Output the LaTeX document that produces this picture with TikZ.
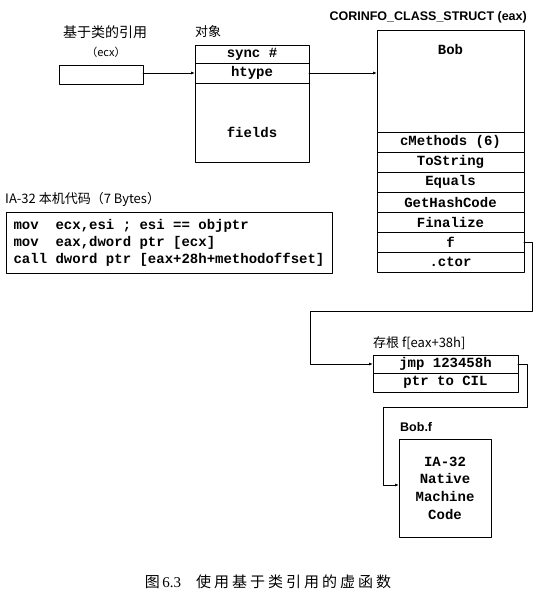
\documentclass[tikz,border=0pt]{standalone}
\usepackage{fontspec}
\setmainfont{Liberation Serif}
\newfontfamily\cjkfont{Noto Sans CJK SC}
\newfontfamily\capfont{Noto Sans CJK SC}[LetterSpace=20]
\newfontfamily\codefont{Liberation Mono}
\newfontfamily\titlefont{Liberation Sans}
\usepackage{tikz}
\usetikzlibrary{arrows.meta,positioning}
\tikzset{
  vt diagram/.style={line cap=round, line join=round},
  vt cell/.style={draw=black, fill=white, line width=0.9pt, inner sep=0pt,
    outer sep=0pt, font=\codefont\bfseries\fontsize{14}{17}\selectfont},
  vt row/.style={vt cell, minimum width=147pt, minimum height=20pt},
  vt text/.style={vt cell, draw=none, fill=none},
  vt code/.style={vt cell, align=left, inner sep=5pt},
  vt label/.style={font=\cjkfont\fontsize{13}{15}\selectfont, inner sep=0pt},
  vt title/.style={font=\titlefont\bfseries\fontsize{12.5}{14}\selectfont,
    inner sep=0pt},
  vt link/.style={-{Latex[length=4pt,width=3pt]}, line width=0.9pt}
}
\begin{document}
\begin{tikzpicture}[vt diagram,x=1pt,y=-1pt]
\useasboundingbox (0,0) rectangle (542,599);
% reference held in ecx
\node[vt label,font=\cjkfont\fontsize{14}{16}\selectfont] (refcap) at (105,32) {基于类的引用};
\node[vt label,font=\cjkfont\fontsize{11}{13}\selectfont] (ecxcap) at (106,52) {（ecx）};
\node[vt cell,minimum width=84pt,minimum height=19pt] (ref) at (101,74.5) {};
% object on the heap
\node[vt label,anchor=west] (objcap) at (195,32) {对象};
\node[vt cell,minimum width=114pt,minimum height=18pt] (sync) at (252,54) {sync \#};
\node[vt cell,minimum width=114pt,minimum height=20pt,below=0pt of sync] (htype) {htype};
\node[vt cell,minimum width=114pt,minimum height=79pt,below=0pt of htype,
  label={[vt text,yshift=-10pt]center:fields}] (fields) {};
% method table
\node[vt title,anchor=east] (clscap) at (527,17) {CORINFO\_CLASS\_STRUCT (eax)};
\node[vt row,minimum height=102pt,
  label={[vt text,below=14pt]north:Bob}] (bob) at (450.5,81) {};
\node[vt row,below=0pt of bob] (cmeth) {cMethods (6)};
\node[vt row,below=0pt of cmeth] (tostr) {ToString};
\node[vt row,below=0pt of tostr] (equals) {Equals};
\node[vt row,below=0pt of equals] (hash) {GetHashCode};
\node[vt row,below=0pt of hash] (final) {Finalize};
\node[vt row,below=0pt of final] (f) {f};
\node[vt row,below=0pt of f] (ctor) {.ctor};
% native call site
\node[vt label,anchor=west] (codecap) at (5,199) {IA-32 本机代码（7 Bytes）};
\node[vt code,minimum width=326pt,minimum height=61pt] (code) at (169,242.5)
  {mov\ \ ecx,esi ; esi == objptr\\mov\ \ eax,dword ptr [ecx]\\call dword ptr [eax+28h+methodoffset]};
% stub
\node[vt label,anchor=west] (stubcap) at (373,343) {存根 f[eax+38h]};
\node[vt cell,minimum width=145pt,minimum height=18pt] (jmp) at (445.5,364) {jmp 123458h};
\node[vt cell,minimum width=145pt,minimum height=19pt,below=0pt of jmp] (cil) {ptr to CIL};
% jitted body
\node[vt title,anchor=west] (bobfcap) at (400,427) {Bob.f};
\node[vt cell,minimum width=92pt,minimum height=98pt,align=center,
  font=\codefont\bfseries\fontsize{14}{17.7}\selectfont] (native) at (445,488)
  {IA-32\\Native\\Machine\\Code};
\coordinate (turnf) at (310,311);
\coordinate (turnj) at (383,407);
\draw[vt link] (htype.west -| ref.east) -- (htype.west);
\draw[vt link] (htype.east) -- (htype.east -| bob.west);
\draw[vt link] (f.east) -- ++(8,0) |- (turnf) |- (jmp.west);
\draw[vt link] (jmp.east) -- ++(9,0) |- (turnj) |- ([yshift=3pt]native.west);
% caption
\node[font=\capfont\fontsize{15}{17}\selectfont] (caption) at (268,582)
  {图\,{\rmfamily\fontsize{15}{17}\selectfont 6.3}\quad 使用基于类引用的虚函数};
\end{tikzpicture}
\end{document}
